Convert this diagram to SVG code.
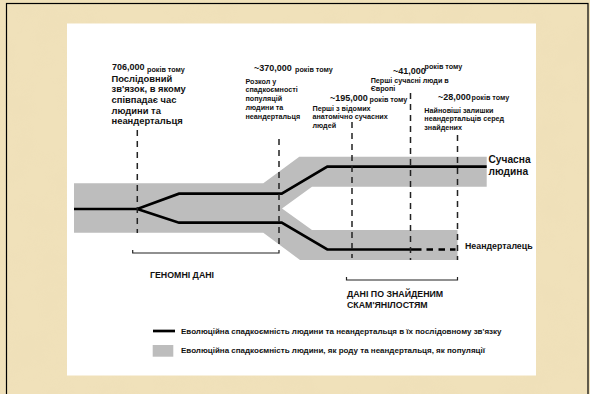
<svg xmlns="http://www.w3.org/2000/svg" width="590" height="394" viewBox="0 0 590 394">
<defs>
<style>
text{font-family:"Liberation Sans",Arial,sans-serif;fill:#111;font-weight:bold}
.big{font-size:9.4px}
.num{font-size:9px}
.sm{font-size:7.2px}
.lab{font-size:8.8px}
.leg{font-size:8px}
.band{fill:#bdbdbd}
.vd{stroke:#222;stroke-width:1.5;stroke-dasharray:6 5;fill:none}
.br{stroke:#222;stroke-width:1.2;fill:none}
.ln{stroke:#000;stroke-width:2.7;fill:none;stroke-linejoin:miter}
</style>
<filter id="tex" x="0" y="0" width="100%" height="100%">
<feTurbulence type="fractalNoise" baseFrequency="0.03" numOctaves="4" seed="7"/>
<feColorMatrix type="matrix" values="0 0 0 0 0.82  0 0 0 0 0.70  0 0 0 0 0.46  0 0 0 1.0 -0.42"/>
</filter>
</defs>
<rect x="0" y="0" width="590" height="394" fill="#f0e1ba"/>
<rect x="0" y="0" width="590" height="394" filter="url(#tex)" opacity="0.4"/>
<rect x="6.5" y="3.5" width="581.5" height="400" fill="none" stroke="#000" stroke-width="1.2"/>
<rect x="67" y="23.5" width="469" height="352" fill="#fff"/>

<g id="bands">
<path class="band" d="M74,183.3 H263.3 L299.3,156.7 H486.7 V186.7 H312 L282,208.5 L312,230 H457.5 V260 H300 L263.3,232.7 H74 Z"/>
</g>

<g id="connectors">
<path class="ln" d="M74,209 H137.3 L179,193.7 H281.7 L327.3,166.7 H486.7"/>
<path class="ln" d="M137.3,209 L179,222.7 H281.7 L327.3,249.5 H421.5"/>
<path class="ln" d="M426.5,249.5 H433 M438.5,249.5 H445 M450,249.5 H455.5"/>
<line class="vd" x1="137.3" y1="130" x2="137.3" y2="233"/>
<line class="vd" x1="279" y1="139" x2="279" y2="247"/>
<line class="vd" x1="352" y1="122" x2="352" y2="258"/>
<line class="vd" x1="410.5" y1="93" x2="410.5" y2="260"/>
<line class="vd" x1="457.5" y1="135" x2="457.5" y2="260"/>
<path class="br" d="M132.7,250 V253 H279 V250"/>
<path class="br" d="M346.5,277 V280 H457.5 V277"/>
</g>

<g id="t706">
<text class="num" x="112" y="70">706,000</text>
<text class="sm" x="147" y="71.5">років тому</text>
<text class="big" x="111.5" y="81.7">Послідовний</text>
<text class="big" x="111.5" y="92.4">зв'язок, в якому</text>
<text class="big" x="111.5" y="103">співпадає час</text>
<text class="big" x="111.5" y="113.7">людини та</text>
<text class="big" x="111.5" y="124.3">неандертальця</text>
</g>

<g id="t370">
<text class="num" x="254" y="70.5">~370,000</text>
<text class="sm" x="295" y="72">років тому</text>
<text class="sm" x="245.5" y="83.5">Розкол у</text>
<text class="sm" x="245.5" y="92.2">спадкоємності</text>
<text class="sm" x="245.5" y="101">популяцій</text>
<text class="sm" x="245.5" y="109.7">людини та</text>
<text class="sm" x="245.5" y="118.5">неандертальця</text>
</g>

<g id="t195">
<text class="num" x="330" y="100.5">~195,000</text>
<text class="sm" x="369.5" y="101.8">років тому</text>
<text class="sm" x="312.5" y="110.5">Перші з відомих</text>
<text class="sm" x="312.5" y="119">анатомічно сучасних</text>
<text class="sm" x="312.5" y="127.5">людей</text>
</g>

<g id="t41">
<text class="num" x="393" y="74">~41,000</text>
<text class="sm" x="424.5" y="68.5">років тому</text>
<text class="sm" x="370.7" y="82.8">Перші сучасні люди в</text>
<text class="sm" x="370.7" y="91">Європі</text>
</g>

<g id="t28">
<text class="num" x="438" y="100">~28,000</text>
<text class="sm" x="471.5" y="100">років тому</text>
<text class="sm" x="424.3" y="112.8">Найновіші залишки</text>
<text class="sm" x="424.3" y="121.2">неандертальців серед</text>
<text class="sm" x="424.3" y="129.8">знайдених</text>
</g>

<g id="modern">
<text x="488.5" y="163" style="font-size:10.2px">Сучасна</text>
<text x="488.5" y="175" style="font-size:10.2px">людина</text>
</g>
<g id="neand">
<text class="lab" x="465" y="249">Неандерталець</text>
</g>
<g id="genomic">
<text class="lab" x="150" y="277.5">ГЕНОМНІ ДАНІ</text>
</g>
<g id="fossil">
<text class="lab" x="347" y="297">ДАНІ ПО ЗНАЙДЕНИМ</text>
<text class="lab" x="347" y="307.5">СКАМ'ЯНІЛОСТЯМ</text>
</g>

<g id="legend">
<line x1="153" y1="331" x2="175" y2="331" stroke="#000" stroke-width="2.7"/>
<text class="leg" x="181" y="333.8">Еволюційна спадкоємність людини та неандертальця в їх послідовному зв'язку</text>
<rect x="152.7" y="345" width="20.6" height="11.7" fill="#bdbdbd"/>
<text class="leg" x="181" y="353">Еволюційна спадкоємність людини, як роду та неандертальця, як популяції</text>
</g>
</svg>
